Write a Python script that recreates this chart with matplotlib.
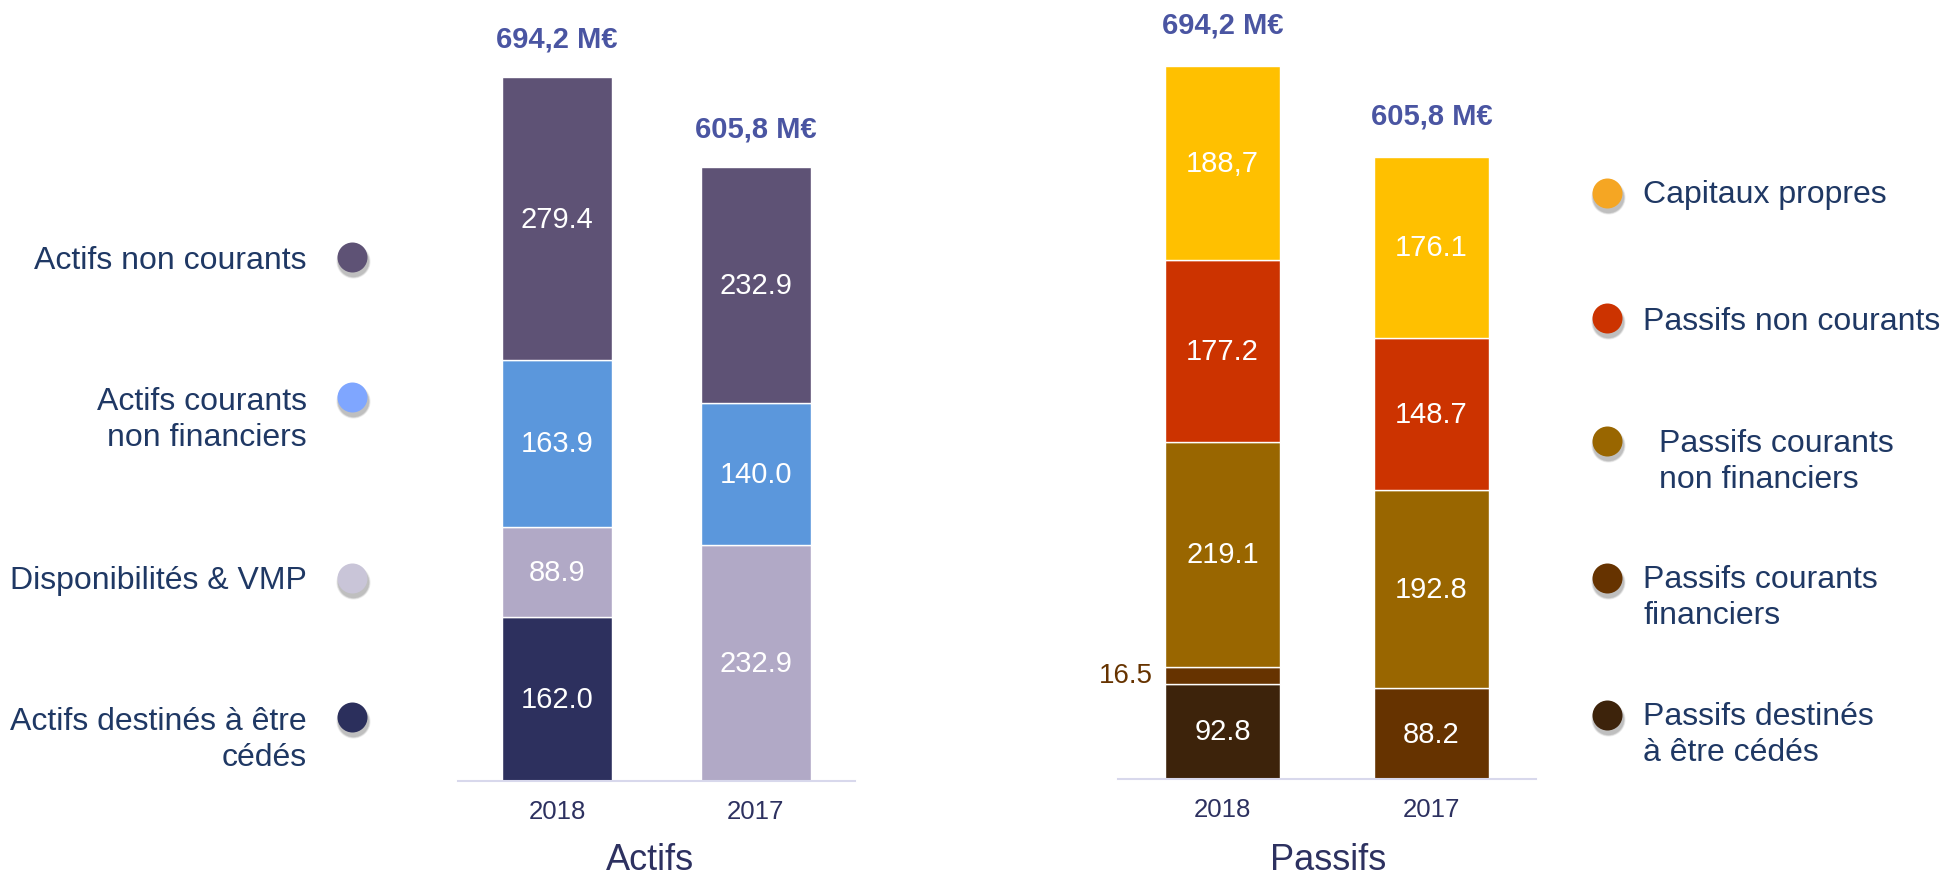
import matplotlib.pyplot as plt

plt.rcParams["font.family"] = ["Liberation Sans", "DejaVu Sans"]

W, H = 1943, 879

years = ["2018", "2017"]

# Actifs (M€), stacked from bottom to top
actifs_cedes = [162.0, 0.0]
disponibilites = [88.9, 232.9]
actifs_courants = [163.9, 140.0]
actifs_non_courants = [279.4, 232.9]
actifs_totals = ["694,2 M€", "605,8 M€"]

# Passifs (M€), stacked from bottom to top
passifs_cedes = [92.8, 0.0]
passifs_courants_fin = [16.5, 88.2]
passifs_courants_nonfin = [219.1, 192.8]
passifs_non_courants = [177.2, 148.7]
capitaux_propres = [188.7, 176.1]
capitaux_labels = ["188,7", "176.1"]
passifs_totals = ["694,2 M€", "605,8 M€"]

actifs_names = ["Actifs non courants", "Actifs courants\nnon financiers",
                "Disponibilités & VMP", "Actifs destinés à être\ncédés"]
passifs_names = ["Capitaux propres", "Passifs non courants",
                 "Passifs courants\nnon financiers", "Passifs courants\nfinanciers",
                 "Passifs destinés\nà être cédés"]

TOTAL_COLOR = "#4a55a2"
TEXT_COLOR = "#1f3864"
YEAR_COLOR = "#2d3160"

fig = plt.figure(figsize=(W / 100, H / 100), dpi=100)


def px_axes(x0, x1, base, top, ppu):
    ax = fig.add_axes([x0 / W, (H - base) / H, (x1 - x0) / W, (base - top) / H])
    ax.set_xlim(-0.5, 1.5)
    ax.set_ylim(0, (base - top) / ppu)
    for s in ["top", "right", "left"]:
        ax.spines[s].set_visible(False)
    ax.spines["bottom"].set_color("#d8d8ec")
    ax.spines["bottom"].set_linewidth(1.5)
    ax.set_yticks([])
    ax.set_xticks([0, 1], years)
    ax.tick_params(axis="x", length=0, pad=13, labelsize=18.5, labelcolor=YEAR_COLOR)
    ax.patch.set_alpha(0)
    return ax


def stack(ax, series, colors, labels, width, total_labels, gap):
    x = range(len(years))
    bottom = [0.0] * len(years)
    for vals, col, labs in zip(series, colors, labels):
        ax.bar(x, vals, width=width, bottom=bottom, color=col,
               edgecolor="white", linewidth=1)
        for i, v in enumerate(vals):
            if v > 0 and labs[i]:
                ax.text(i, bottom[i] + v / 2, labs[i], ha="center", va="center",
                        color="white", fontsize=21)
        bottom = [b + v for b, v in zip(bottom, vals)]
    for i, t in enumerate(total_labels):
        ax.annotate(t, (i, bottom[i]), xytext=(0, gap), textcoords="offset points",
                    ha="center", va="center", fontsize=21, fontweight="bold",
                    color=TOTAL_COLOR)


def fmt(vals):
    return [f"{v:.1f}" for v in vals]


# Actifs chart
ax1 = px_axes(458, 855, 782, 20, 1.014)
stack(ax1,
      [actifs_cedes, disponibilites, actifs_courants, actifs_non_courants],
      ["#2d305e", "#b1a9c6", "#5b97dc", "#5e5275"],
      [fmt(actifs_cedes), fmt(disponibilites), fmt(actifs_courants), fmt(actifs_non_courants)],
      0.555, actifs_totals, 27.5)

# Passifs chart
ax2 = px_axes(1118, 1536, 780, 10, 1.027)
stack(ax2,
      [passifs_cedes, passifs_courants_fin, passifs_courants_nonfin,
       passifs_non_courants, capitaux_propres],
      ["#3d230b", "#663300", "#996600", "#cc3300", "#ffc000"],
      [fmt(passifs_cedes), ["", fmt(passifs_courants_fin)[1]], fmt(passifs_courants_nonfin),
       fmt(passifs_non_courants), capitaux_labels],
      0.55, passifs_totals, 30)
# small slice labelled outside the bar
ax2.annotate(fmt(passifs_courants_fin)[0],
             (-0.275, passifs_cedes[0] + passifs_courants_fin[0] / 2),
             xytext=(-9, 0), textcoords="offset points", ha="right", va="center",
             fontsize=20, color="#663300")

# Custom legends and titles (pixel coordinates overlay)
lg = fig.add_axes([0, 0, 1, 1])
lg.set_xlim(0, W)
lg.set_ylim(H, 0)
lg.axis("off")
lg.patch.set_alpha(0)

lg.text(650, 870, "Actifs", ha="center", va="baseline", fontsize=26, color=YEAR_COLOR)
lg.text(1328, 870, "Passifs", ha="center", va="baseline", fontsize=26, color=YEAR_COLOR)


def dot(x, y, c):
    for k, a in [(3, 0.10), (2, 0.14), (1, 0.18)]:
        lg.plot(x + 1, y + 4, "o", ms=21.6 + k, color="#555555", alpha=a, mec="none")
    lg.plot(x, y, "o", ms=21.6, color=c, mec="none")


left_dots = [(352, 258), (352, 398), (352, 579), (352, 718)]
left_text_y = [261, 420, 581, 740]
left_dot_colors = ["#5e5275", "#7fa6ff", "#c9c5d8", "#2b2f5c"]
for name, (dx, dy), ty, c in zip(actifs_names, left_dots, left_text_y, left_dot_colors):
    dot(dx, dy, c)
    lg.text(307, ty, name, ha="right", va="center", fontsize=23, color=TEXT_COLOR,
            linespacing=1.25)

right_dots = [(1607, 194), (1607, 319), (1607, 442), (1607, 579), (1607, 716)]
right_text = [(1643, 195), (1643, 322), (1659, 462), (1643, 598), (1643, 735)]
right_dot_colors = ["#f5a623", "#cc3300", "#996600", "#663300", "#3d230b"]
for name, (dx, dy), (tx, ty), c in zip(passifs_names, right_dots, right_text, right_dot_colors):
    dot(dx, dy, c)
    lg.text(tx, ty, name, ha="left", va="center", fontsize=23, color=TEXT_COLOR,
            linespacing=1.25)

fig.savefig("out.png", dpi=100)
